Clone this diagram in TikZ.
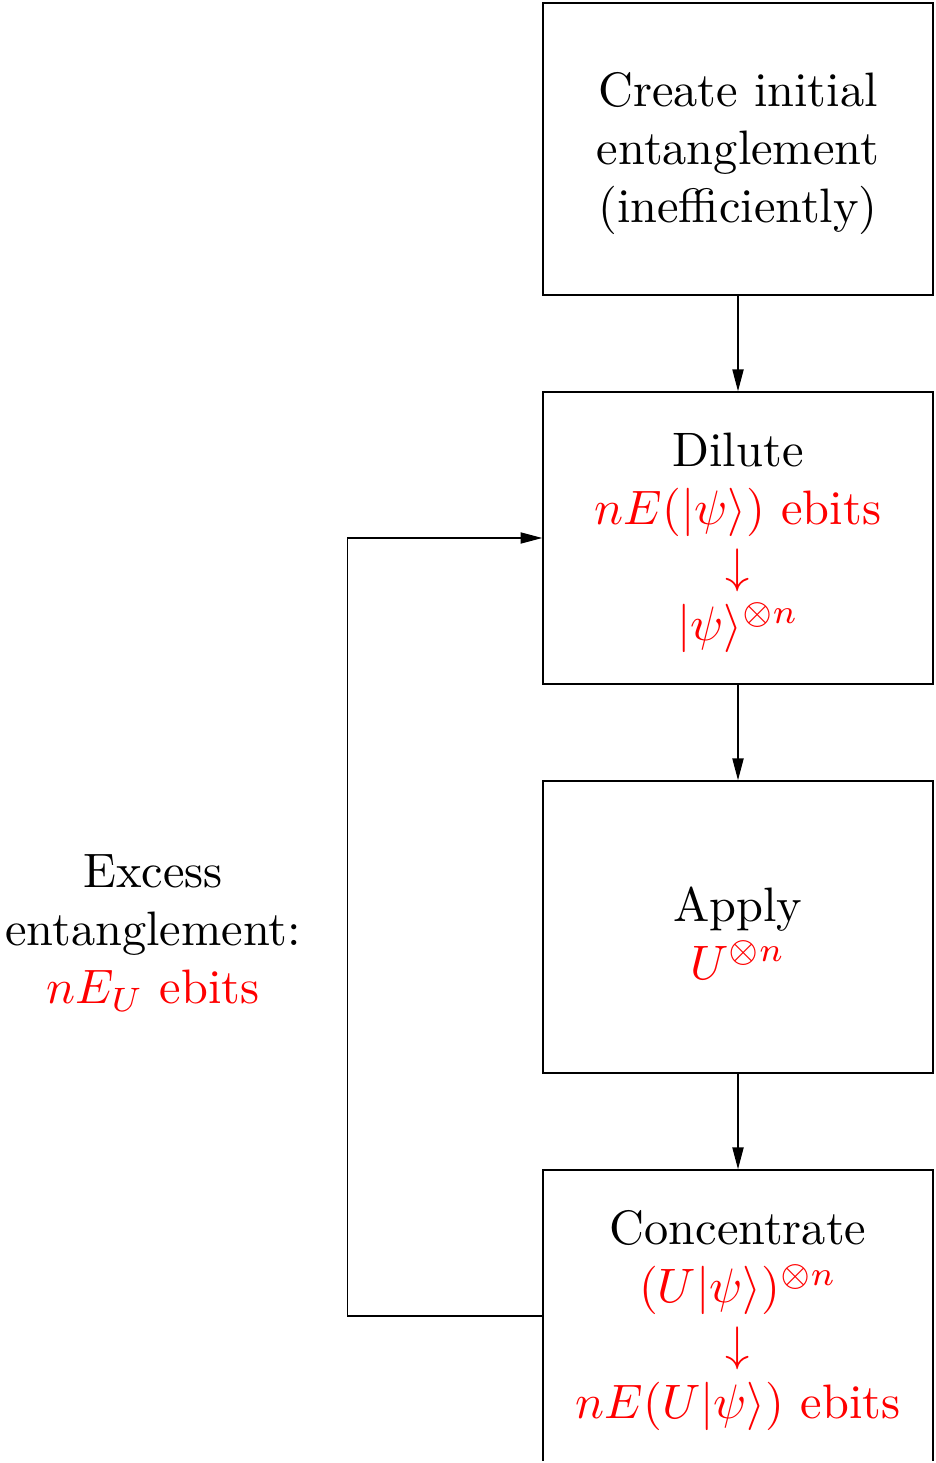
\documentclass[tikz,border=0pt]{standalone}
\usetikzlibrary{arrows.meta}
\begin{document}
\begin{tikzpicture}[x=0.2068pt,y=-0.2068pt,
  stage/.style={draw, line width=0.3pt, minimum width=80.65pt, minimum height=60.4pt,
    inner sep=0pt},
  words/.style={align=center, inner sep=0pt},
  flow/.style={-{Triangle[length=4.5pt,width=2.3pt]}, line width=0.3pt}]
\useasboundingbox (0,0) rectangle (935,1463);
\clip (-5,-5) rectangle (940,1460.5);
% the four stages of the protocol
\node[stage] (create) at (738,149) {};
\node[stage] (dilute) at (738,538) {};
\node[stage] (apply) at (738,927) {};
\node[stage] (conc) at (738,1316) {};
% their texts, set a little below the box centres
\node[words] (createtxt) at ([yshift=-1pt]create.center) {Create initial\\entanglement\\(inefficiently)};
\node[words] (dilutetxt) at ([yshift=-1pt]dilute.center) {Dilute\\\color{red}$nE(|\psi\rangle)$ ebits\\\color{red}$\downarrow$\\\color{red}$|\psi\rangle^{\otimes n}$};
\node[words] (applytxt) at ([yshift=-1.2pt]apply.center) {Apply\\\color{red}$U^{\otimes n}$};
\node[words] (conctxt) at ([yshift=-1pt]conc.center) {Concentrate\\\color{red}$(U|\psi\rangle)^{\otimes n}$\\\color{red}$\downarrow$\\\color{red}$nE(U|\psi\rangle)$ ebits};
\node[words] (excess) at (153,933) {Excess\\entanglement:\\\color{red}$nE_U$ ebits};
% main flow and the feedback loop
\draw[flow] (create) -- (dilute);
\draw[flow] (dilute) -- (apply);
\draw[flow] (apply) -- (conc);
\draw[flow] (conc.west) -- ++(-195,0) |- (dilute.west);
\end{tikzpicture}
\end{document}
